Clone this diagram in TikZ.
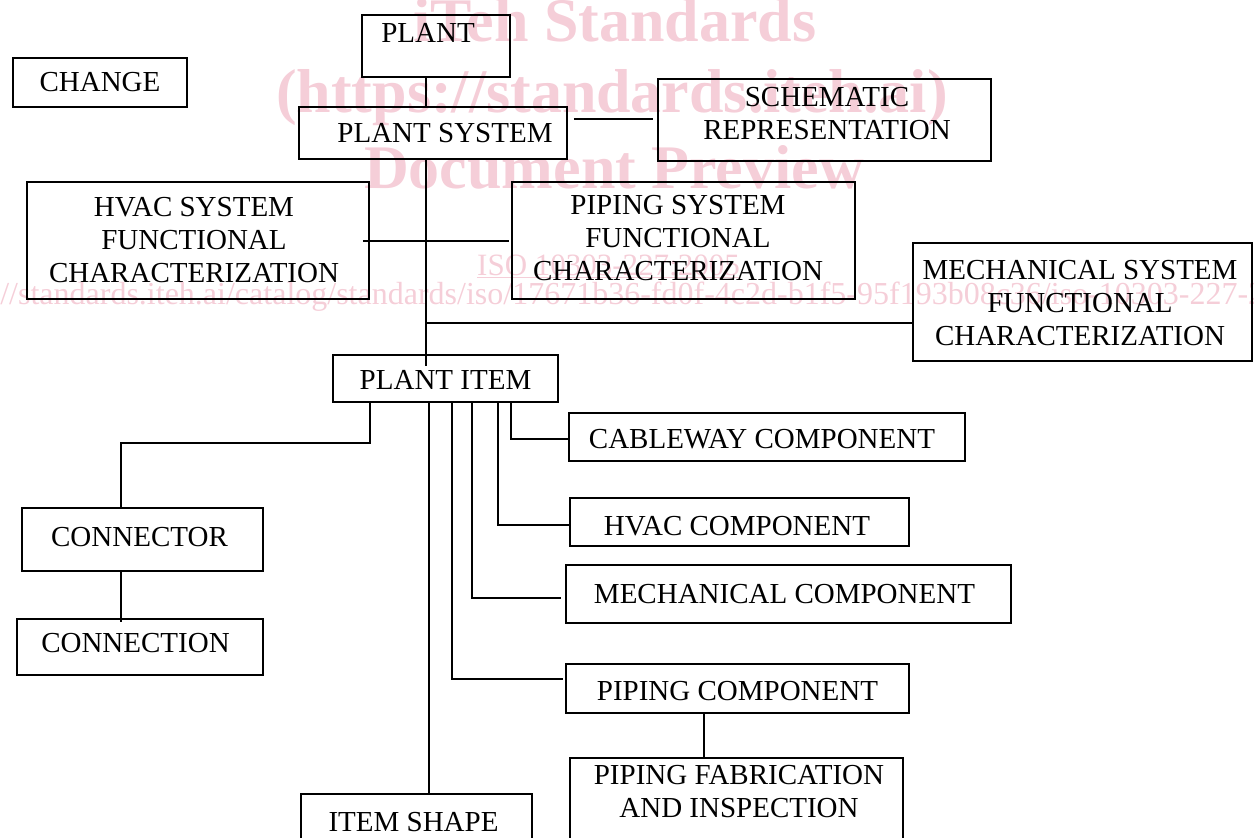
\documentclass[tikz,border=0pt]{standalone}
\usepackage{fontspec}
\setmainfont{Liberation Serif}
\definecolor{wmpink}{RGB}{245,206,216}
\begin{document}
\begin{tikzpicture}[x=1pt,y=-1pt,
  box/.style={draw, line width=1.7pt, inner sep=0pt},
  lbl/.style={font=\fontsize{29}{33}\selectfont, align=center, inner sep=0pt},
  wm/.style={text=wmpink, font=\bfseries\fontsize{62}{62}\selectfont, inner sep=0pt, anchor=base},
  wmsmall/.style={text=wmpink, inner sep=0pt},
  conn/.style={line width=1.7pt}]
\useasboundingbox (0,0) rectangle (1254,838);

% watermark
\node[wm] (wm1) at (615,41) {iTeh Standards};
\node[wm] (wm2) at (612,112) {(https://standards.iteh.ai)};
\node[wm] (wm3) at (614,188) {Document Preview};
\node[wmsmall, anchor=base west, font=\fontsize{31}{31}\selectfont] (wm4) at (477,275) {\underline{ISO 10303-227:2005}};
\node[wmsmall, anchor=base west, font=\fontsize{32}{32}\selectfont] (wm5) at (-71,304) {https://standards.iteh.ai/catalog/standards/iso/17671b36-fd0f-4c2d-b1f5-95f193b08c36/iso-10303-227-2005};

% boxes
\node[box, minimum width=174pt, minimum height=49pt, label={[lbl]center:CHANGE}] (change) at (100,82.5) {};
\node[box, minimum width=148pt, minimum height=62pt, label={[lbl, xshift=-8pt, yshift=13pt]center:PLANT}] (plant) at (436,46) {};
\node[box, minimum width=268pt, minimum height=52pt, label={[lbl, xshift=12pt]center:PLANT SYSTEM}] (psys) at (433,133) {};
\node[box, minimum width=333pt, minimum height=82pt, label={[lbl, xshift=2.5pt, yshift=6pt]center:SCHEMATIC\\REPRESENTATION}] (schem) at (824.5,120) {};
\node[box, minimum width=342pt, minimum height=117pt, label={[lbl, xshift=-4pt]center:HVAC SYSTEM\\FUNCTIONAL\\CHARACTERIZATION}] (hvac) at (198,240.5) {};
\node[box, minimum width=343pt, minimum height=117pt, label={[lbl, xshift=-5.5pt, yshift=2.5pt]center:PIPING SYSTEM\\FUNCTIONAL\\CHARACTERIZATION}] (piping) at (683.5,240.5) {};
\node[box, minimum width=339pt, minimum height=118pt, label={[lbl, xshift=-2.5pt, yshift=-1pt]center:MECHANICAL SYSTEM\\FUNCTIONAL\\CHARACTERIZATION}] (mechs) at (1082.5,302) {};
\node[box, minimum width=225pt, minimum height=47pt, label={[lbl, yshift=-1.5pt]center:PLANT ITEM}] (pitem) at (445.5,378.5) {};
\node[box, minimum width=396pt, minimum height=48pt, label={[lbl, xshift=-5pt, yshift=-2.5pt]center:CABLEWAY COMPONENT}] (ccomp) at (767,437) {};
\node[box, minimum width=339pt, minimum height=48pt, label={[lbl, xshift=-2.5pt, yshift=-4pt]center:HVAC COMPONENT}] (hcomp) at (739.5,522) {};
\node[box, minimum width=445pt, minimum height=58pt, label={[lbl, xshift=-4pt]center:MECHANICAL COMPONENT}] (mcomp) at (788.5,594) {};
\node[box, minimum width=343pt, minimum height=49pt, label={[lbl, yshift=-3pt]center:PIPING COMPONENT}] (pcomp) at (737.5,688.5) {};
\node[box, minimum width=333pt, minimum height=122pt, label={[lbl, xshift=2.5pt, yshift=27pt]center:PIPING FABRICATION\\AND INSPECTION}] (pfab) at (736.5,819) {};
\node[box, minimum width=231pt, minimum height=86pt, label={[lbl, xshift=-3pt, yshift=15pt]center:ITEM SHAPE}] (ishape) at (416.5,837) {};
\node[box, minimum width=241pt, minimum height=63pt, label={[lbl, xshift=-3pt, yshift=2.5pt]center:CONNECTOR}] (connector) at (142.5,539.5) {};
\node[box, minimum width=246pt, minimum height=56pt, label={[lbl, xshift=-4.5pt, yshift=4pt]center:CONNECTION}] (connection) at (140,647) {};

% helper coordinates
\coordinate (tr) at (426,0);
\coordinate (y119) at (0,119);
\coordinate (y241) at (0,241);
\coordinate (y323) at (0,323);
\coordinate (c1) at (370,443);
\coordinate (c2) at (121,443);
\coordinate (xis) at (429,0);
\coordinate (k1) at (452,679);
\coordinate (k2) at (472,598);
\coordinate (k3) at (498,525);
\coordinate (k4) at (511,439);
\coordinate (k5) at (704,0);

% connectors
\draw[conn] (plant.south -| tr) -- (psys.north -| tr);
\draw[conn, shorten <=6pt, shorten >=4pt] (psys.east |- y119) -- (schem.west |- y119);
\draw[conn, shorten >=-12pt] (psys.south -| tr) -- (pitem.north -| tr);
\draw[conn, shorten <=-7pt, shorten >=2pt] (hvac.east |- y241) -- (piping.west |- y241);
\draw[conn] (tr |- y323) -- (mechs.west |- y323);
\draw[conn] (pitem.south -| c1) -- (c1) -- (c2) -- (connector.north -| c2);
\draw[conn, shorten >=-4pt] (connector.south -| c2) -- (connection.north -| c2);
\draw[conn] (pitem.south -| xis) -- (ishape.north -| xis);
\draw[conn, shorten >=2pt] (pitem.south -| k1) |- (pcomp.west |- k1);
\draw[conn, shorten >=4pt] (pitem.south -| k2) |- (mcomp.west |- k2);
\draw[conn] (pitem.south -| k3) |- (hcomp.west |- k3);
\draw[conn] (pitem.south -| k4) |- (ccomp.west |- k4);
\draw[conn] (pcomp.south -| k5) -- (pfab.north -| k5);
\end{tikzpicture}
\end{document}
